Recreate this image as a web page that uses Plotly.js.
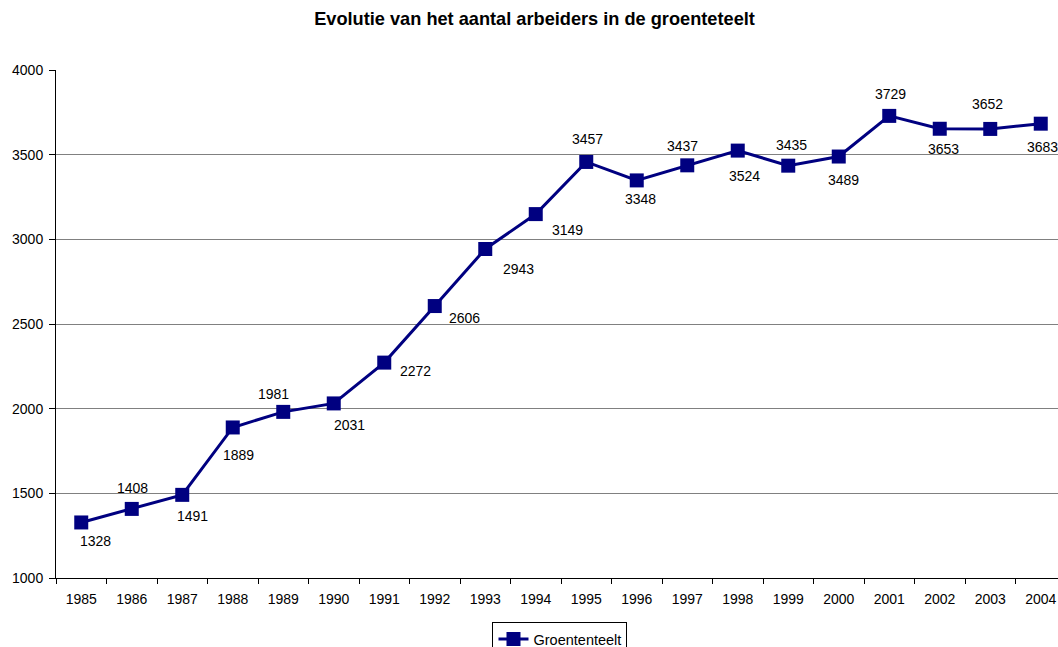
<!DOCTYPE html>
<html>
<head>
<meta charset="utf-8">
<script src="https://cdn.plot.ly/plotly-3.0.1.min.js"></script>
<style>
html,body{margin:0;padding:0;overflow:hidden;background:#fff;}
#chart{width:1090px;height:647px;}
</style>
</head>
<body>
<div id="chart"></div>
<script>
const years = ['1985','1986','1987','1988','1989','1990','1991','1992','1993','1994',
               '1995','1996','1997','1998','1999','2000','2001','2002','2003','2004'];
const workers = [1328,1408,1491,1889,1981,2031,2272,2606,2943,3149,
                 3457,3348,3437,3524,3435,3489,3729,3653,3652,3683];
const seriesName = 'Groententeelt';
const chartTitle = 'Evolutie van het aantal arbeiders in de groenteteelt';

// label offsets (style only): [dx, dy] in pixels, dy positive = downward
const labelOffsets = [[14,19],[1,-21],[10,21],[6,28],[-10,-18],[16,22],[31,8],[30,12],
                      [33,20],[32,16],[1,-23],[4,19],[-5,-19],[7,25],[3,-21],[5,23],
                      [1,-22],[4,20],[-3,-25],[2,23]];

const FONT = 'Liberation Sans, Arial, sans-serif';
const NAVY = '#000080';

const annotations = workers.map((v, i) => ({
  x: i, y: v, xref: 'x', yref: 'y',
  text: String(v), showarrow: false, visible: true,
  xanchor: 'center', yanchor: 'middle',
  xshift: labelOffsets[i][0], yshift: -labelOffsets[i][1],
  font: {family: FONT, size: 14, color: '#000'}
}));

const trace = {
  x: years, y: workers, type: 'scatter', mode: 'lines+markers', name: seriesName,
  line: {color: NAVY, width: 3},
  marker: {symbol: 'square', size: 14, color: NAVY}
};

const layout = {
  width: 1090, height: 647,
  margin: {l: 56, r: 24, t: 70, b: 69},
  paper_bgcolor: '#fff', plot_bgcolor: '#fff',
  font: {family: FONT, size: 14, color: '#000'},
  title: {
    text: '<b>' + chartTitle + '</b>',
    font: {family: FONT, size: 18.2, color: '#000'},
    xref: 'paper', x: 0.4738, xanchor: 'center',
    yref: 'container', y: 1 - 19/647, yanchor: 'middle'
  },
  xaxis: {
    type: 'category', range: [-0.5, 19.5],
    showline: true, linecolor: '#000', linewidth: 1,
    ticks: 'outside', tickson: 'boundaries', ticklen: 5, tickcolor: '#000', tickwidth: 1,
    ticklabelstandoff: 8,
    showgrid: false, zeroline: false,
    tickfont: {family: FONT, size: 14, color: '#000'}
  },
  yaxis: {
    range: [1000, 4000], dtick: 500, tick0: 1000,
    showline: true, linecolor: '#000', linewidth: 1,
    ticks: 'outside', ticklen: 6, tickcolor: '#000', tickwidth: 1,
    ticklabelstandoff: 3,
    showgrid: true, gridcolor: '#808080', gridwidth: 1,
    zeroline: false,
    tickfont: {family: FONT, size: 14, color: '#000'}
  },
  showlegend: true,
  legend: {
    orientation: 'h', x: 0.499, xanchor: 'center',
    yref: 'container', y: 1 - 622/647, yanchor: 'top',
    bordercolor: '#000', borderwidth: 1, bgcolor: '#fff',
    font: {family: FONT, size: 14.5, color: '#000'}
  },
  annotations: annotations
};

Plotly.newPlot('chart', [trace], layout, {displayModeBar: false});
</script>
</body>
</html>
